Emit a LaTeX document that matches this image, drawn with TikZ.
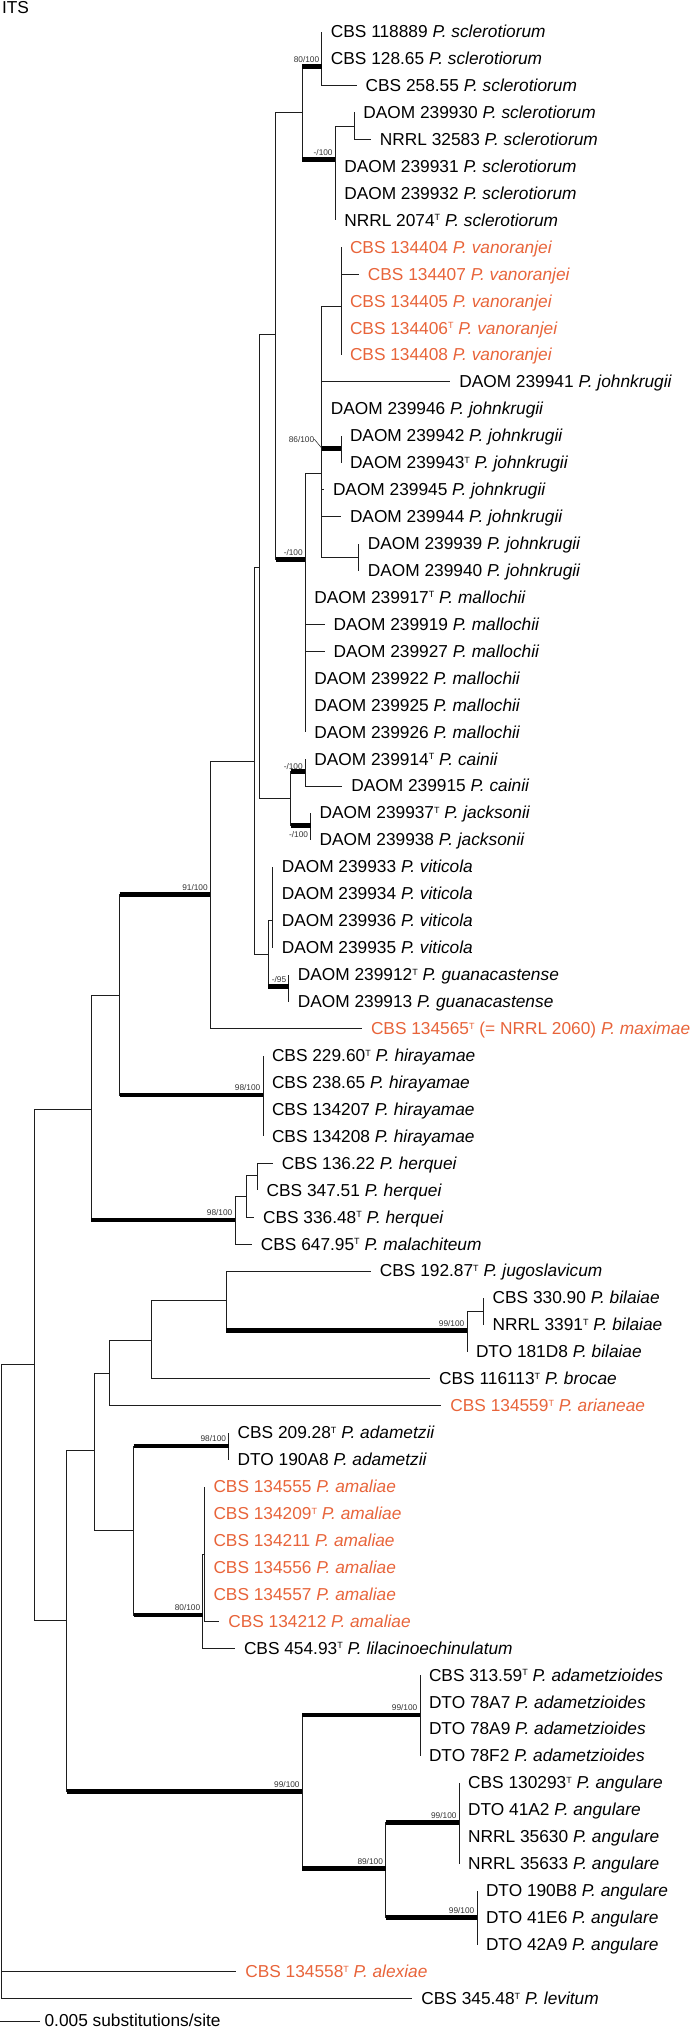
\documentclass[tikz,border=0pt]{standalone}
\usepackage{fontspec}
\setmainfont{Liberation Sans}
\definecolor{ink}{HTML}{1E1E1E}
\definecolor{novel}{HTML}{E8643A}
\newcommand{\sn}[1]{\textit{P. #1}}
\newcommand{\ty}{\raisebox{5.4pt}{\fontsize{9}{9}\selectfont T}}

\begin{document}
\begin{tikzpicture}[x=1pt,y=-1pt,
  br/.style={line width=0.9pt,draw=ink},
  thickbr/.style={line width=4.6pt,draw=black},
  leaf/.style={anchor=west,inner sep=0pt,outer xsep=9pt,text height=11.9pt,text depth=0pt,font=\fontsize{17.3}{20}\selectfont},
  newsp/.style={leaf,text=novel},
  bs/.style={anchor=east,inner sep=0pt,xshift=-2.5pt,yshift=7pt,font=\fontsize{8.3}{9}\selectfont,text=black!80}]
\useasboundingbox (0,0) rectangle (699,2028);
\node[leaf,outer xsep=0pt] (its) at (2,7.3) {ITS};
\coordinate (R) at (1.5,1364);
\coordinate (J) at (34.8,1364);
\coordinate (I) at (91.4,1109);
\coordinate (L) at (66.9,1620);
\coordinate (H) at (119.5,995);
\coordinate (K) at (235,1220);
\coordinate (F) at (210.4,894.3);
\coordinate (Hir) at (263,1095);
\coordinate (D) at (254.1,761.7);
\coordinate (C) at (259.5,567.3);
\coordinate (E) at (268.4,954.3);
\coordinate (B) at (275.5,334);
\coordinate (CJ) at (290.7,798.3);
\coordinate (S) at (302.3,112.7);
\coordinate (JM) at (305.4,559.3);
\coordinate (A1) at (321.9,66.7);
\coordinate (A2) at (335.3,159.3);
\coordinate (A3) at (354.4,126);
\coordinate (S2) at (321.9,473.3);
\coordinate (V) at (341,306.7);
\coordinate (J86) at (341,448.3);
\coordinate (J2) at (358.9,557.3);
\coordinate (Cai) at (305.4,771.7);
\coordinate (Jac) at (310.7,825.7);
\coordinate (Vit) at (272.8,920);
\coordinate (Gua) at (288.9,986.7);
\coordinate (K1) at (246.1,1196.7);
\coordinate (K2) at (257.7,1175);
\coordinate (M) at (94.5,1450);
\coordinate (N) at (302.3,1791.7);
\coordinate (M1) at (109.2,1373.3);
\coordinate (P) at (133.7,1530);
\coordinate (M2) at (151.6,1340);
\coordinate (M3) at (226,1300);
\coordinate (Bil) at (467,1330.7);
\coordinate (Bil2) at (483.7,1311.7);
\coordinate (Ada) at (228.7,1446);
\coordinate (Q) at (202.9,1615);
\coordinate (Q1) at (204.5,1554);
\coordinate (AD) at (420,1715);
\coordinate (AN) at (385.6,1868.7);
\coordinate (AN1) at (459.2,1822.7);
\coordinate (AN2) at (477,1917.7);
\node[leaf] (l1) at (321.9,31.7) {CBS 118889 \sn{sclerotiorum}};
\node[leaf] (l2) at (321.9,58.6) {CBS 128.65 \sn{sclerotiorum}};
\node[leaf] (l3) at (356.7,85.6) {CBS 258.55 \sn{sclerotiorum}};
\node[leaf] (l4) at (354.4,112.5) {DAOM 239930 \sn{sclerotiorum}};
\node[leaf] (l5) at (370.9,139.5) {NRRL 32583 \sn{sclerotiorum}};
\node[leaf] (l6) at (335.3,166.4) {DAOM 239931 \sn{sclerotiorum}};
\node[leaf] (l7) at (335.3,193.3) {DAOM 239932 \sn{sclerotiorum}};
\node[leaf] (l8) at (335.3,220.3) {NRRL 2074\ty{} \sn{sclerotiorum}};
\node[newsp] (l9) at (341,247.2) {CBS 134404 \sn{vanoranjei}};
\node[newsp] (l10) at (358.9,274.2) {CBS 134407 \sn{vanoranjei}};
\node[newsp] (l11) at (341,301.1) {CBS 134405 \sn{vanoranjei}};
\node[newsp] (l12) at (341,328.1) {CBS 134406\ty{} \sn{vanoranjei}};
\node[newsp] (l13) at (341,355) {CBS 134408 \sn{vanoranjei}};
\node[leaf] (l14) at (450.3,381.9) {DAOM 239941 \sn{johnkrugii}};
\node[leaf] (l15) at (321.9,408.9) {DAOM 239946 \sn{johnkrugii}};
\node[leaf] (l16) at (341,435.8) {DAOM 239942 \sn{johnkrugii}};
\node[leaf] (l17) at (341,462.7) {DAOM 239943\ty{} \sn{johnkrugii}};
\node[leaf] (l18) at (324,489.7) {DAOM 239945 \sn{johnkrugii}};
\node[leaf] (l19) at (341,516.6) {DAOM 239944 \sn{johnkrugii}};
\node[leaf] (l20) at (358.9,543.6) {DAOM 239939 \sn{johnkrugii}};
\node[leaf] (l21) at (358.9,570.5) {DAOM 239940 \sn{johnkrugii}};
\node[leaf] (l22) at (305.4,597.4) {DAOM 239917\ty{} \sn{mallochii}};
\node[leaf] (l23) at (324.6,624.4) {DAOM 239919 \sn{mallochii}};
\node[leaf] (l24) at (324.6,651.3) {DAOM 239927 \sn{mallochii}};
\node[leaf] (l25) at (305.4,678.3) {DAOM 239922 \sn{mallochii}};
\node[leaf] (l26) at (305.4,705.2) {DAOM 239925 \sn{mallochii}};
\node[leaf] (l27) at (305.4,732.2) {DAOM 239926 \sn{mallochii}};
\node[leaf] (l28) at (305.4,759.1) {DAOM 239914\ty{} \sn{cainii}};
\node[leaf] (l29) at (342.4,786) {DAOM 239915 \sn{cainii}};
\node[leaf] (l30) at (310.7,813) {DAOM 239937\ty{} \sn{jacksonii}};
\node[leaf] (l31) at (310.7,839.9) {DAOM 239938 \sn{jacksonii}};
\node[leaf] (l32) at (272.8,866.9) {DAOM 239933 \sn{viticola}};
\node[leaf] (l33) at (272.8,893.8) {DAOM 239934 \sn{viticola}};
\node[leaf] (l34) at (272.8,920.8) {DAOM 239936 \sn{viticola}};
\node[leaf] (l35) at (272.8,947.7) {DAOM 239935 \sn{viticola}};
\node[leaf] (l36) at (288.9,974.6) {DAOM 239912\ty{} \sn{guanacastense}};
\node[leaf] (l37) at (288.9,1001.6) {DAOM 239913 \sn{guanacastense}};
\node[newsp] (l38) at (362,1028.5) {CBS 134565\ty{} (= NRRL 2060) \sn{maximae}};
\node[leaf] (l39) at (263,1055.5) {CBS 229.60\ty{} \sn{hirayamae}};
\node[leaf] (l40) at (263,1082.4) {CBS 238.65 \sn{hirayamae}};
\node[leaf] (l41) at (263,1109.3) {CBS 134207 \sn{hirayamae}};
\node[leaf] (l42) at (263,1136.3) {CBS 134208 \sn{hirayamae}};
\node[leaf] (l43) at (272.8,1163.2) {CBS 136.22 \sn{herquei}};
\node[leaf] (l44) at (257.7,1190.2) {CBS 347.51 \sn{herquei}};
\node[leaf] (l45) at (254.1,1217.1) {CBS 336.48\ty{} \sn{herquei}};
\node[leaf] (l46) at (251.9,1244.1) {CBS 647.95\ty{} \sn{malachiteum}};
\node[leaf] (l47) at (370.9,1271) {CBS 192.87\ty{} \sn{jugoslavicum}};
\node[leaf] (l48) at (483.7,1297.9) {CBS 330.90 \sn{bilaiae}};
\node[leaf] (l49) at (483.7,1324.9) {NRRL 3391\ty{} \sn{bilaiae}};
\node[leaf] (l50) at (467,1351.8) {DTO 181D8 \sn{bilaiae}};
\node[leaf] (l51) at (430.2,1378.8) {CBS 116113\ty{} \sn{brocae}};
\node[newsp] (l52) at (441.4,1405.7) {CBS 134559\ty{} \sn{arianeae}};
\node[leaf] (l53) at (228.7,1432.6) {CBS 209.28\ty{} \sn{adametzii}};
\node[leaf] (l54) at (228.7,1459.6) {DTO 190A8 \sn{adametzii}};
\node[newsp] (l55) at (204.5,1486.5) {CBS 134555 \sn{amaliae}};
\node[newsp] (l56) at (204.5,1513.5) {CBS 134209\ty{} \sn{amaliae}};
\node[newsp] (l57) at (204.5,1540.4) {CBS 134211 \sn{amaliae}};
\node[newsp] (l58) at (204.5,1567.4) {CBS 134556 \sn{amaliae}};
\node[newsp] (l59) at (204.5,1594.3) {CBS 134557 \sn{amaliae}};
\node[newsp] (l60) at (219.3,1621.2) {CBS 134212 \sn{amaliae}};
\node[leaf] (l61) at (235,1648.2) {CBS 454.93\ty{} \sn{lilacinoechinulatum}};
\node[leaf] (l62) at (420,1675.1) {CBS 313.59\ty{} \sn{adametzioides}};
\node[leaf] (l63) at (420,1702.1) {DTO 78A7 \sn{adametzioides}};
\node[leaf] (l64) at (420,1729) {DTO 78A9 \sn{adametzioides}};
\node[leaf] (l65) at (420,1756) {DTO 78F2 \sn{adametzioides}};
\node[leaf] (l66) at (459.2,1782.9) {CBS 130293\ty{} \sn{angulare}};
\node[leaf] (l67) at (459.2,1809.8) {DTO 41A2 \sn{angulare}};
\node[leaf] (l68) at (459.2,1836.8) {NRRL 35630 \sn{angulare}};
\node[leaf] (l69) at (459.2,1863.7) {NRRL 35633 \sn{angulare}};
\node[leaf] (l70) at (477,1890.7) {DTO 190B8 \sn{angulare}};
\node[leaf] (l71) at (477,1917.6) {DTO 41E6 \sn{angulare}};
\node[leaf] (l72) at (477,1944.6) {DTO 42A9 \sn{angulare}};
\node[newsp] (l73) at (236.3,1971.5) {CBS 134558\ty{} \sn{alexiae}};
\node[leaf] (l74) at (412.4,1998.5) {CBS 345.48\ty{} \sn{levitum}};
\draw[br] (R) |- (J) (R) |- (l73.west) (R) |- (l74.west);
\draw[br] (J) |- (I) (J) |- (L);
\draw[br] (I) |- (H) (I) |- (K);
\draw[br] (H) |- (F) (H) |- (Hir);
\draw[br] (F) |- (D) (F) |- (l38.west);
\draw[br] (D) |- (C) (D) |- (E);
\draw[br] (C) |- (B) (C) |- (CJ);
\draw[br] (B) |- (S) (B) |- (JM);
\draw[br] (S) |- (A1) (S) |- (A2) (A2) |- (A3);
\foreach \k in {1,2,3} \draw[br] (A1) |- (l\k.west);
\foreach \k in {4,5} \draw[br] (A3) |- (l\k.west);
\foreach \k in {6,7,8} \draw[br] (A2) |- (l\k.west);
\draw[br] (JM) |- (S2);
\foreach \k in {22,...,27} \draw[br] (JM) |- (l\k.west);
\draw[br] (S2) |- (V) (S2) |- (J86) (S2) |- (J2);
\foreach \k in {14,15,18,19} \draw[br] (S2) |- (l\k.west);
\foreach \k in {9,...,13} \draw[br] (V) |- (l\k.west);
\foreach \k in {16,17} \draw[br] (J86) |- (l\k.west);
\foreach \k in {20,21} \draw[br] (J2) |- (l\k.west);
\draw[br] (CJ) |- (Cai) (CJ) |- (Jac);
\foreach \k in {28,29} \draw[br] (Cai) |- (l\k.west);
\foreach \k in {30,31} \draw[br] (Jac) |- (l\k.west);
\draw[br] (E) |- (Vit) (E) |- (Gua);
\foreach \k in {32,...,35} \draw[br] (Vit) |- (l\k.west);
\foreach \k in {36,37} \draw[br] (Gua) |- (l\k.west);
\foreach \k in {39,...,42} \draw[br] (Hir) |- (l\k.west);
\draw[br] (K) |- (K1) (K) |- (l46.west) (K1) |- (K2) (K1) |- (l45.west);
\foreach \k in {43,44} \draw[br] (K2) |- (l\k.west);
\draw[br] (L) |- (M) (L) |- (N);
\draw[br] (M) |- (M1) (M) |- (P);
\draw[br] (M1) |- (M2) (M1) |- (l52.west);
\draw[br] (M2) |- (M3) (M2) |- (l51.west);
\draw[br] (M3) |- (l47.west) (M3) |- (Bil);
\draw[br] (Bil) |- (Bil2) (Bil) |- (l50.west);
\foreach \k in {48,49} \draw[br] (Bil2) |- (l\k.west);
\draw[br] (P) |- (Ada) (P) |- (Q);
\foreach \k in {53,54} \draw[br] (Ada) |- (l\k.west);
\draw[br] (Q) |- (Q1) (Q) |- (l61.west);
\foreach \k in {55,...,60} \draw[br] (Q1) |- (l\k.west);
\draw[br] (N) |- (AD) (N) |- (AN);
\foreach \k in {62,...,65} \draw[br] (AD) |- (l\k.west);
\draw[br] (AN) |- (AN1) (AN) |- (AN2);
\foreach \k in {66,...,69} \draw[br] (AN1) |- (l\k.west);
\foreach \k in {70,71,72} \draw[br] (AN2) |- (l\k.west);
\draw[thickbr] (S |- A1) -- (A1) (S |- A2) -- (A2) (B |- JM) -- (JM) (S2 |- J86) -- (J86);
\draw[thickbr] (CJ |- Cai) -- (Cai) (CJ |- Jac) -- (Jac) (E |- Gua) -- (Gua);
\draw[thickbr] (H |- F) -- (F) (H |- Hir) -- (Hir) (I |- K) -- (K);
\draw[thickbr] (M3 |- Bil) -- (Bil) (P |- Ada) -- (Ada) (P |- Q) -- (Q);
\draw[thickbr] (L |- N) -- (N) (N |- AD) -- (AD) (N |- AN) -- (AN) (AN |- AN1) -- (AN1) (AN |- AN2) -- (AN2);
\node[bs] (s1) at (A1) {80/100};
\node[bs] (s2) at (A2) {-/100};
\node[bs,xshift=-5pt,yshift=2pt] (s3) at (S2 |- J86) {86/100};
\draw[br,line width=0.5pt] (s3.east) -- (S2 |- J86);
\node[bs] (s4) at (JM) {-/100};
\node[bs,yshift=-2pt] (s5) at (Cai) {-/100};
\node[bs,yshift=-16.3pt] (s6) at (Jac) {-/100};
\node[bs] (s7) at (Gua) {-/95};
\node[bs] (s8) at (F) {91/100};
\node[bs] (s9) at (Hir) {98/100};
\node[bs] (s10) at (K) {98/100};
\node[bs] (s11) at (Bil) {99/100};
\node[bs] (s12) at (Ada) {98/100};
\node[bs] (s13) at (Q) {80/100};
\node[bs] (s14) at (N) {99/100};
\node[bs] (s15) at (AD) {99/100};
\node[bs] (s16) at (AN1) {99/100};
\node[bs] (s17) at (AN) {89/100};
\node[bs] (s18) at (AN2) {99/100};
\coordinate (sb) at (0,2021);
\node[leaf,outer xsep=4.5pt] (scale) at (40.1,2021) {0.005 substitutions/site};
\draw[br] (sb) -- (scale.west);
\end{tikzpicture}
\end{document}
